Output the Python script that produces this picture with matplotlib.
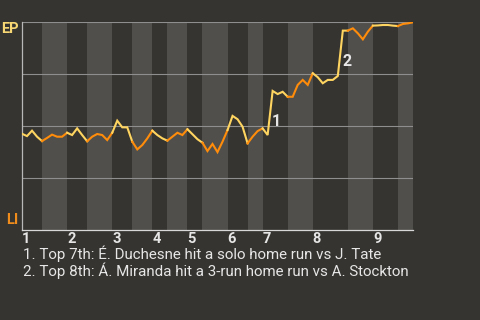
import matplotlib

matplotlib.use("Agg")
import matplotlib.pyplot as plt
import numpy as np

plt.rcParams["font.family"] = ["Roboto", "DejaVu Sans"]

AWAY = "EP"
HOME = "LI"

# plate appearances in each half inning (top 1, bottom 1, top 2, ...)
half_inning_pas = [4, 5, 4, 5, 4, 4, 3, 4, 3, 5, 4, 3, 5, 5, 7, 5, 5, 3]

# EP win probability after each plate appearance (first value = first pitch)
win_prob = [
    0.464, 0.453, 0.479, 0.450, 0.429, 0.444, 0.460, 0.450, 0.450, 0.469,
    0.458, 0.490, 0.458, 0.428, 0.450, 0.463, 0.458, 0.434, 0.469, 0.527,
    0.495, 0.495, 0.426, 0.389, 0.410, 0.442, 0.479, 0.458, 0.442, 0.431,
    0.450, 0.469, 0.458, 0.486, 0.462, 0.438, 0.421, 0.381, 0.415, 0.376,
    0.426, 0.482, 0.550, 0.534, 0.498, 0.418, 0.450, 0.477, 0.490, 0.458,
    0.670, 0.655, 0.666, 0.642, 0.642, 0.699, 0.723, 0.699, 0.755, 0.736,
    0.707, 0.723, 0.723, 0.742, 0.960, 0.960, 0.971, 0.947, 0.918, 0.955,
    0.984, 0.985, 0.987, 0.987, 0.984, 0.982, 0.992, 0.995, 1.000,
]

# plate appearance index where each noted play ends
big_plays = [50, 64]
notes = [
    "1. Top 7th: É. Duchesne hit a solo home run vs J. Tate",
    "2. Top 8th: Á. Miranda hit a 3-run home run vs A. Stockton",
]

BG = "#363430"
STRIPE = "#504f4c"
AWAY_COLOR = "#ffd561"
HOME_COLOR = "#ff8c0a"
TEXT = "#e6e6e6"

bounds = np.concatenate([[0], np.cumsum(half_inning_pas)])
x = np.arange(len(win_prob))
wp = np.array(win_prob)

fig = plt.figure(figsize=(4.8, 3.2), dpi=100, facecolor=BG)
ax = fig.add_axes([22 / 480, 1 - 230.3 / 320, 391 / 480, 208 / 320])
ax.set_facecolor(BG)

for i in range(len(half_inning_pas)):
    start, end = bounds[i], bounds[i + 1]
    if i % 2 == 1:
        ax.axvspan(start, end, color=STRIPE, lw=0, zorder=0)
    color = AWAY_COLOR if i % 2 == 0 else HOME_COLOR
    ax.plot(x[start:end + 1], wp[start:end + 1], color=color, lw=1.5,
            solid_joinstyle="miter", zorder=3)

for y in [0.25, 0.5, 0.75, 1.0]:
    ax.axhline(y, color="#8e8e8e", lw=0.8, zorder=1)

for n, idx in enumerate(big_plays, start=1):
    mid = (wp[idx - 1] + wp[idx]) / 2
    ax.annotate(str(n), (idx, mid), xytext=(-0.4, -6.2), textcoords="offset points",
                ha="left", va="center", fontsize=11.5, fontweight="bold",
                color=TEXT, zorder=4)

ax.set_xlim(0, bounds[-1])
ax.set_ylim(0, 1)
ax.set_yticks([])
ax.set_xticks(bounds[:-1:2])
ax.set_xticklabels([str(i + 1) for i in range(len(bounds[:-1:2]))],
                   ha="left", fontsize=10.5, fontweight="bold", color=TEXT)
ax.tick_params(axis="x", length=0, pad=1.2)

for side in ["top", "right"]:
    ax.spines[side].set_visible(False)
ax.spines["left"].set_color("#b8b8b8")
ax.spines["bottom"].set_color("#d8d8d8")
ax.spines["left"].set_linewidth(0.9)
ax.spines["bottom"].set_linewidth(0.9)

ax.text(-0.008, 0.968, AWAY, transform=ax.transAxes, ha="right", va="center",
        fontsize=10.5, fontweight="bold", color="#f7d774")
ax.text(-0.008, 0.05, HOME, transform=ax.transAxes, ha="right", va="center",
        fontsize=10.5, fontweight="bold", color="#f08c1c")

for k, note in enumerate(notes):
    fig.text(23 / 480, 1 - (258.5 + 17.5 * k) / 320, note, ha="left",
             va="baseline", fontsize=10.9, color=TEXT)

fig.savefig("out.png", dpi=100, facecolor=BG)
